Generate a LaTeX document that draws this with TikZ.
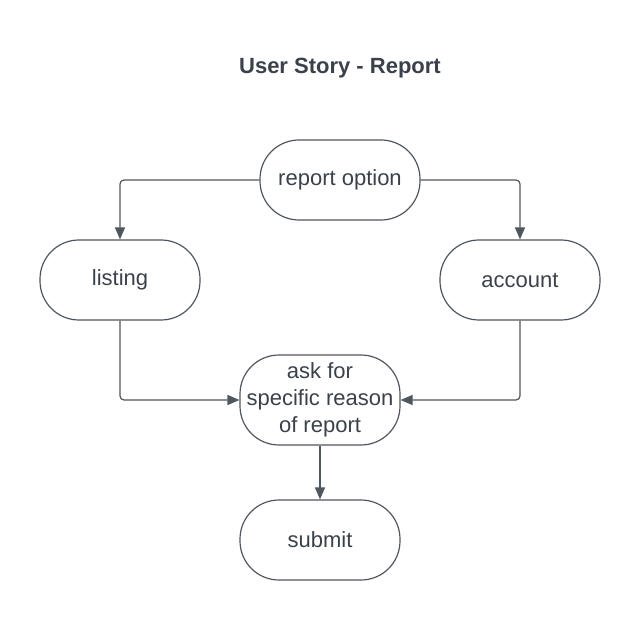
\documentclass[tikz,border=0pt]{standalone}
\usepackage{fontspec}
\setmainfont{Liberation Sans}
\usetikzlibrary{arrows.meta}
\definecolor{ink}{HTML}{3A414A}
\definecolor{edge}{HTML}{50565E}
\begin{document}
\begin{tikzpicture}[x=1pt,y=-1pt,
  stadium/.style={draw=edge, line width=1.2pt, rounded corners=39pt, minimum width=160pt, minimum height=80pt, inner sep=0pt, align=center, text=ink, font=\fontsize{22}{27}\selectfont},
  conn/.style={draw=edge, line width=1.2pt, rounded corners=4pt, -{Triangle[length=12pt,width=10pt]}}]
\useasboundingbox (0,0) rectangle (640,620);
\node[font=\bfseries\fontsize{22}{26}\selectfont, text=ink] (title) at (340,68) {User Story - Report};
\node[stadium] (opt) at (340,180) {report option};
\node[stadium] (list) at (120,280) {listing};
\node[stadium] (acc) at (520,280) {account};
\node[stadium, minimum height=90pt] (ask) at (320,400) {ask for\\specific reason\\of report};
\node[stadium] (sub) at (320,540) {submit};
\draw[conn] (opt.west) -| (list.north);
\draw[conn] (opt.east) -| (acc.north);
\draw[conn] (list.south) |- (ask.west);
\draw[conn] (acc.south) |- (ask.east);
\draw[conn] (ask.south) -- (sub.north);
\end{tikzpicture}
\end{document}
